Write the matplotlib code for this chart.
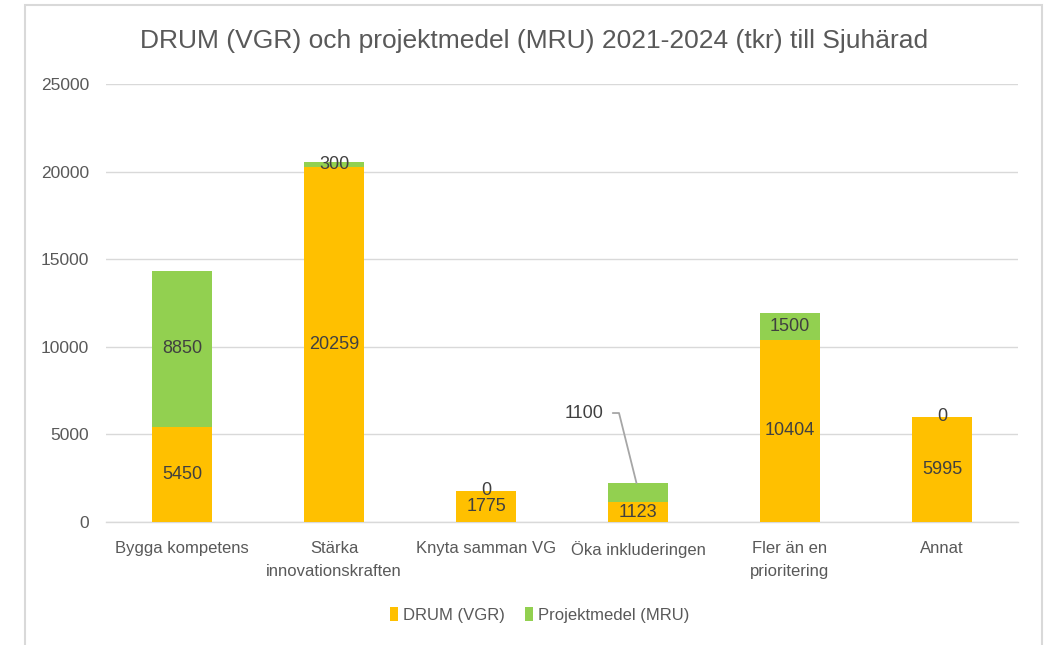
import numpy as np
import matplotlib.pyplot as plt
from matplotlib.patches import Rectangle

kategorier = ['Bygga kompetens', 'Stärka\ninnovationskraften', 'Knyta samman VG',
              'Öka inkluderingen', 'Fler än en\nprioritering', 'Annat']
drum = [5450, 20259, 1775, 1123, 10404, 5995]
mru = [8850, 300, 0, 1100, 1500, 0]

plt.rcParams['font.family'] = ['Liberation Sans', 'DejaVu Sans']

fig = plt.figure(figsize=(10.48, 6.45), dpi=100)
ax = fig.add_axes([106 / 1048, 123 / 645, 912 / 1048, 438 / 645])

x = np.arange(len(kategorier))
ax.bar(x, drum, width=0.4, color='#FFC000', label='DRUM (VGR)', zorder=3)
ax.bar(x, mru, width=0.4, bottom=drum, color='#92D050', label='Projektmedel (MRU)', zorder=3)

# etiketter i staplarna
for i in range(len(x)):
    ax.text(x[i], drum[i] / 2, str(drum[i]), ha='center', va='center',
            fontsize=13, color='#404040', zorder=4)
    if i == 3:
        continue
    ax.text(x[i], drum[i] + mru[i] / 2, str(mru[i]), ha='center', va='center',
            fontsize=13, color='#404040', zorder=4)

# 1100 med hänvisningslinje
ax.annotate(str(mru[3]), xy=(x[3] - 0.01, drum[3] + mru[3]), xytext=(x[3] - 0.23, 6220),
            ha='right', va='center', fontsize=13, color='#404040',
            arrowprops=dict(arrowstyle='-', color='#A6A6A6', lw=1.3,
                            connectionstyle='angle,angleA=0,angleB=104,rad=0',
                            relpos=(1, 0.5), shrinkA=5, shrinkB=0))

ax.set_xlim(-0.5, 5.5)
ax.set_ylim(0, 25000)
ax.set_yticks(range(0, 25001, 5000))
ax.set_xticks(x)
ax.set_xticklabels(kategorier, fontsize=12, color='#595959', linespacing=1.6)
ax.tick_params(axis='y', labelsize=12.5, labelcolor='#595959', length=0, pad=12)
ax.tick_params(axis='x', length=0, pad=14)
ax.grid(axis='y', color='#D9D9D9', lw=1, zorder=0)
for s in ['top', 'right', 'left']:
    ax.spines[s].set_visible(False)
ax.spines['bottom'].set_color('#D9D9D9')
ax.spines['bottom'].set_linewidth(1)

fig.text(0.51, 0.937, 'DRUM (VGR) och projektmedel (MRU) 2021-2024 (tkr) till Sjuhärad',
         ha='center', va='center', fontsize=19, color='#595959')

leg = fig.legend(loc='center', bbox_to_anchor=(0.515, 0.047), ncol=2, frameon=False,
                 fontsize=12, handlelength=0.5, handleheight=0.9, handletextpad=0.3,
                 columnspacing=1.2)
for t in leg.get_texts():
    t.set_color('#595959')

fig.patches.append(Rectangle((25 / 1048, -0.05), 1017 / 1048, 1.05 - 5 / 645,
                             transform=fig.transFigure, fill=False,
                             edgecolor='#D9D9D9', lw=1.5))

fig.savefig('out.png', dpi=100)
